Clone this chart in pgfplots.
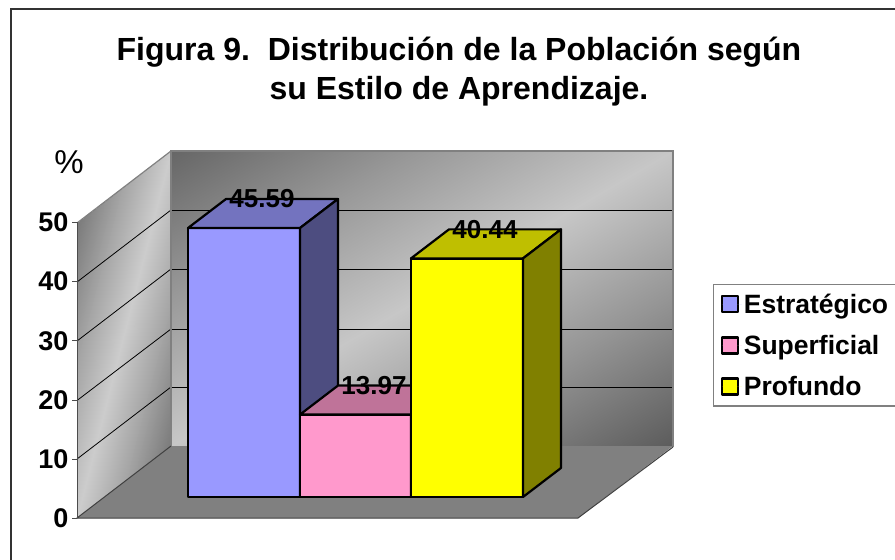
\documentclass[border=0pt]{standalone}
\usepackage{fontspec}
\setmainfont{Liberation Sans}
\usepackage{pgfplots}
\pgfplotsset{compat=1.18}
\definecolor{wallline}{HTML}{808080}
\definecolor{floorc}{HTML}{808080}
\definecolor{estr}{HTML}{9999FF}
\definecolor{estrtop}{HTML}{7373BF}
\definecolor{estrside}{HTML}{4D4D80}
\definecolor{superf}{HTML}{FF99CC}
\definecolor{superftop}{HTML}{BF7399}
\definecolor{superfside}{HTML}{804D66}
\definecolor{prof}{HTML}{FFFF00}
\definecolor{proftop}{HTML}{BFBF00}
\definecolor{profside}{HTML}{808000}
\pgfplotsset{base/.style={
  scale only axis, width=895pt, height=560pt, at={(0pt,0pt)}, anchor=south west,
  clip=false, hide axis, xmin=0, xmax=895},
  wall/.style={patch, patch type=rectangle, shader=interp, point meta=explicit,
    colormap={greys}{gray(0cm)=(0); gray(1cm)=(1)}, point meta min=0, point meta max=1}}
\begin{document}
\begin{tikzpicture}
\useasboundingbox (0pt,0pt) rectangle (895pt,560pt);
% walls, floor, grid and frame, in picture pixels
\begin{axis}[base, ymin=0, ymax=560, y dir=reverse]
\addplot[draw=black!80, line width=1.4pt] coordinates {(11,9)(905,9)(905,570)(11,570)} --cycle;
% back wall: dark corners top left and bottom right, light band between
\addplot[wall] coordinates {
  (171,151)[0.40] (422,151)[0.60] (422,298)[0.78] (171,298)[0.60]
  (422,151)[0.60] (673,151)[0.78] (673,298)[0.58] (422,298)[0.78]
  (171,298)[0.60] (422,298)[0.78] (422,446)[0.58] (171,446)[0.78]
  (422,298)[0.78] (673,298)[0.58] (673,446)[0.36] (422,446)[0.58]};
% side wall, shaded the same way
\addplot[wall] coordinates {
  (77,223)[0.48] (124,187)[0.65] (124,334)[0.80] (77,370)[0.65]
  (124,187)[0.65] (171,151)[0.80] (171,298)[0.65] (124,334)[0.80]
  (77,370)[0.65] (124,334)[0.80] (124,482)[0.65] (77,518)[0.80]
  (124,334)[0.80] (171,298)[0.65] (171,446)[0.48] (124,482)[0.65]};
\addplot[fill=floorc, draw=none] coordinates {(77,518)(171,446)(673,446)(578,518)} --cycle;
% grid on the back wall
\addplot[black, line width=0.8pt] coordinates {(171,210)(673,210)};
\addplot[black, line width=0.8pt] coordinates {(171,269)(673,269)};
\addplot[black, line width=0.8pt] coordinates {(171,329)(673,329)};
\addplot[black, line width=0.8pt] coordinates {(171,387)(673,387)};
% grid on the side wall
\addplot[black, line width=0.8pt] coordinates {(77,282)(171,210)};
\addplot[black, line width=0.8pt] coordinates {(77,341)(171,269)};
\addplot[black, line width=0.8pt] coordinates {(77,400.5)(171,329)};
\addplot[black, line width=0.8pt] coordinates {(77,459)(171,387)};
% wall edges
\addplot[wallline, line width=2.4pt] coordinates {(171,446)(171,151)(673,151)(673,447)};
\addplot[wallline, line width=1.2pt] coordinates {(77,223)(171,151)};
\addplot[black!75, line width=1pt] coordinates {(673,447)(578,518)(77,518)(171,446)};
\node[font=\fontsize{33}{33}\selectfont] at (axis cs:69,162) {\%};
\end{axis}
% value axis on the front edge of the side wall
\begin{axis}[
  scale only axis, width=1pt, height=296pt, at={(77pt,41.5pt)}, anchor=south west,
  xmin=0, xmax=1, ymin=0, ymax=50, ytick={0,10,20,30,40,50},
  axis y line*=left, axis x line=none,
  axis line style={black!70, line width=1pt},
  tick align=outside, major tick length=5pt, ytick style={black!70, line width=1pt},
  /pgf/number format/assume math mode=true,
  yticklabel style={font=\fontsize{27}{27}\selectfont\bfseries},
]
\addplot[draw=none] coordinates {(0,0)(1,50)};
\end{axis}
% bars: x in picture pixels, y in percent, depth of 38 px and 4.92 units
\begin{axis}[base, ymin=-10.678, ymax=84.237,
  title={Figura 9.~~Distribución de la Población según\\su Estilo de Aprendizaje.},
  title style={font=\fontsize{32}{39}\selectfont\bfseries, align=center,
    at={(axis description cs:0.5128,0.8607)}, anchor=center},
  legend style={at={(axis description cs:0.7966,0.4929)}, anchor=north west,
    draw=wallline, line width=1.2pt, fill=white, inner xsep=7pt, inner ysep=7pt,
    font=\fontsize{26.5}{26.5}\selectfont\bfseries, row sep=16.5pt,
    cells={anchor=west}},
  legend image code/.code={\draw[#1, line width=2.6pt, draw=black] (0pt,-8pt) rectangle (16pt,8pt);
    \path[draw=none] (0pt,0pt) -- (20pt,0pt);},
]
\addplot[fill=estr, draw=black, line width=2.2pt, line join=round] coordinates {(188,0)(188,45.59)(300,45.59)(300,0)} --cycle;
\addlegendentry{Estratégico}
\addplot[forget plot, fill=estrtop, draw=black, line width=2.2pt, line join=round] coordinates {(188,45.59)(226,50.51)(338,50.51)(300,45.59)} --cycle;
\addplot[forget plot, fill=estrside, draw=black, line width=2.2pt, line join=round] coordinates {(300,0)(300,45.59)(338,50.51)(338,4.92)} --cycle;
\addplot[fill=superf, draw=black, line width=2.2pt, line join=round] coordinates {(300,0)(300,13.97)(411,13.97)(411,0)} --cycle;
\addlegendentry{Superficial}
\addplot[forget plot, fill=superftop, draw=black, line width=2.2pt, line join=round] coordinates {(300,13.97)(338,18.89)(449,18.89)(411,13.97)} --cycle;
\addplot[forget plot, fill=superfside, draw=black, line width=2.2pt, line join=round] coordinates {(411,0)(411,13.97)(449,18.89)(449,4.92)} --cycle;
\addplot[fill=prof, draw=black, line width=2.2pt, line join=round] coordinates {(411,0)(411,40.44)(523,40.44)(523,0)} --cycle;
\addlegendentry{Profundo}
\addplot[forget plot, fill=proftop, draw=black, line width=2.2pt, line join=round] coordinates {(411,40.44)(449,45.36)(561,45.36)(523,40.44)} --cycle;
\addplot[forget plot, fill=profside, draw=black, line width=2.2pt, line join=round] coordinates {(523,0)(523,40.44)(561,45.36)(561,4.92)} --cycle;
% value labels sit on the rear edge of each bar's top
\addplot[forget plot, draw=none, mark=none, point meta=explicit symbolic,
  nodes near coords, nodes near coords align={center},
  every node near coord/.append style={font=\fontsize{26}{26}\selectfont\bfseries, anchor=center}]
  coordinates {(262,50.51)[45.59] (374,18.89)[13.97] (485,45.36)[40.44]};
\end{axis}
\end{tikzpicture}
\end{document}
